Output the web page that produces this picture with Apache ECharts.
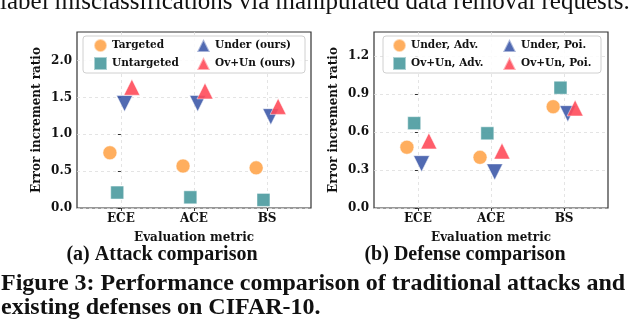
<!DOCTYPE html>
<html>
<head>
<meta charset="utf-8">
<script src="https://cdn.jsdelivr.net/npm/echarts@6/dist/echarts.min.js"></script>
<style>
  html, body { margin: 0; padding: 0; background: #fff; }
  #main { width: 640px; height: 327px; }
</style>
</head>
<body>
<div id="main"></div>
<script>
// 数据
var metrics = ['ECE', 'ACE', 'BS'];

// (a) attack comparison
var attackNames = ['Targeted', 'Untargeted', 'Under (ours)', 'Ov+Un (ours)'];
var targeted   = [0.75, 0.57, 0.545];
var untargeted = [0.21, 0.145, 0.11];
var underOurs  = [1.42, 1.42, 1.24];
var ovunOurs   = [1.64, 1.59, 1.38];

// (b) defense comparison
var defenseNames = ['Under, Adv.', 'Ov+Un, Adv.', 'Under, Poi.', 'Ov+Un, Poi.'];
var underAdv = [0.48, 0.40, 0.80];
var ovunAdv  = [0.67, 0.59, 0.95];
var underPoi = [0.35, 0.285, 0.745];
var ovunPoi  = [0.53, 0.45, 0.79];

var yTicksA = [0, 0.5, 1.0, 1.5, 2.0];
var yTicksB = [0, 0.3, 0.6, 0.9, 1.2];

var chart = echarts.init(document.getElementById('main'));

var FONT = 'DejaVu Serif';
var CAP = '"Liberation Serif"';
var colors = {
  orange: '#ffa54c',
  teal: '#4a9a9f',
  blue: '#3e5aaa',
  red: '#ff4b5a'
};
// 每个系列: 符号, 颜色, 偏移
var styles = [
  { symbol: 'circle',   size: 14, rot: 0,   color: colors.orange, off: -0.15 },
  { symbol: 'rect',     size: 13, rot: 0,   color: colors.teal,   off: -0.05 },
  { symbol: 'triangle', size: 16, rot: 180, color: colors.blue,   off: 0.05 },
  { symbol: 'triangle', size: 16, rot: 0,   color: colors.red,    off: 0.15 }
];

function makeSeries(names, lists, axisIdx) {
  return lists.map(function (vals, k) {
    var s = styles[k];
    return {
      name: names[k],
      type: 'scatter',
      xAxisIndex: axisIdx,
      yAxisIndex: axisIdx,
      symbol: s.symbol,
      symbolSize: s.size,
      symbolRotate: s.rot,
      itemStyle: {
        color: s.color,
        opacity: 0.9,
        borderColor: 'rgba(255,255,255,0.55)',
        borderWidth: 1
      },
      data: vals.map(function (v, i) { return [i + s.off, v]; })
    };
  });
}

function xAxis(gridIdx) {
  return {
    type: 'value',
    gridIndex: gridIdx,
    min: -0.6,
    max: 2.6,
    name: 'Evaluation metric',
    nameLocation: 'middle',
    nameGap: 24,
    nameTextStyle: { fontFamily: FONT, fontWeight: 'bold', fontSize: 12, color: '#111' },
    axisLine: { show: false },
    axisTick: { show: true, customValues: [0, 1, 2], length: 3, lineStyle: { color: '#333' } },
    axisLabel: {
      customValues: [0, 1, 2],
      margin: 5,
      fontFamily: FONT, fontWeight: 'bold', fontSize: 12, color: '#111',
      formatter: function (v) { return metrics[Math.round(v)]; }
    },
    splitLine: { show: true, lineStyle: { type: [3, 3], color: '#ddd', width: 0.8 } }
  };
}

function yAxis(gridIdx, ticks, max, step) {
  return {
    type: 'value',
    gridIndex: gridIdx,
    min: 0,
    max: max,
    interval: step,
    name: 'Error increment ratio',
    nameLocation: 'middle',
    nameGap: 34,
    nameTextStyle: { fontFamily: FONT, fontWeight: 'bold', fontSize: 12, color: '#111' },
    axisLine: { show: false },
    axisTick: { show: true, customValues: ticks, length: 3, lineStyle: { color: '#333' } },
    axisLabel: {
      customValues: ticks,
      margin: 5,
      fontFamily: FONT, fontWeight: 'bold', fontSize: 12, color: '#111',
      formatter: function (v) { return v.toFixed(1); }
    },
    splitLine: { show: true, lineStyle: { type: [3, 3], color: '#ddd', width: 0.8 } }
  };
}

function legend(names, left) {
  return {
    data: names,
    orient: 'vertical',
    left: left,
    top: 38,
    padding: 0,
    z: 10,
    itemWidth: 13,
    itemHeight: 13,
    itemGap: 3,
    textStyle: { fontFamily: FONT, fontWeight: 'bold', fontSize: 10.5, color: '#111', lineHeight: 14 }
  };
}

function legendBox(x, w) {
  return {
    type: 'rect',
    z: 3,
    shape: { x: x, y: 36, width: w, height: 37, r: 3 },
    style: { fill: 'rgba(255,255,255,0.85)', stroke: '#d0d0d0', lineWidth: 1 }
  };
}

var option = {
  backgroundColor: '#fff',
  animation: false,
  grid: [
    { left: 77, top: 32, width: 234, height: 176, show: true, borderColor: '#333', borderWidth: 1.2, backgroundColor: 'transparent' },
    { left: 374, top: 32, width: 234, height: 176, show: true, borderColor: '#333', borderWidth: 1.2, backgroundColor: 'transparent' }
  ],
  xAxis: [xAxis(0), xAxis(1)],
  yAxis: [yAxis(0, yTicksA, 2.39, 0.5), yAxis(1, yTicksB, 1.39, 0.3)],
  legend: [
    legend(attackNames.slice(0, 2), 93),
    legend(attackNames.slice(2), 196),
    legend(defenseNames.slice(0, 2), 392),
    legend(defenseNames.slice(2), 502)
  ],
  graphic: [
    legendBox(83, 222),
    legendBox(383, 218),
    {
      type: 'text', x: 0, y: 15,
      style: { text: 'label misclassifications via manipulated data removal requests.', font: '25px ' + CAP, fill: '#111', textVerticalAlign: 'bottom' }
    },
    {
      type: 'text', x: 162, y: 255,
      style: { text: '(a) Attack comparison', font: 'bold 20px ' + CAP, fill: '#111', textAlign: 'center', textVerticalAlign: 'middle' }
    },
    {
      type: 'text', x: 465, y: 255,
      style: { text: '(b) Defense comparison', font: 'bold 20px ' + CAP, fill: '#111', textAlign: 'center', textVerticalAlign: 'middle' }
    },
    {
      type: 'text', x: 1, y: 284,
      style: { text: 'Figure 3: Performance comparison of traditional attacks and', font: 'bold 24px ' + CAP, fill: '#111', textVerticalAlign: 'middle' }
    },
    {
      type: 'text', x: 1, y: 308,
      style: { text: 'existing defenses on CIFAR-10.', font: 'bold 24px ' + CAP, fill: '#111', textVerticalAlign: 'middle' }
    }
  ],
  series: makeSeries(attackNames, [targeted, untargeted, underOurs, ovunOurs], 0)
    .concat(makeSeries(defenseNames, [underAdv, ovunAdv, underPoi, ovunPoi], 1))
};

chart.setOption(option);
</script>
</body>
</html>
